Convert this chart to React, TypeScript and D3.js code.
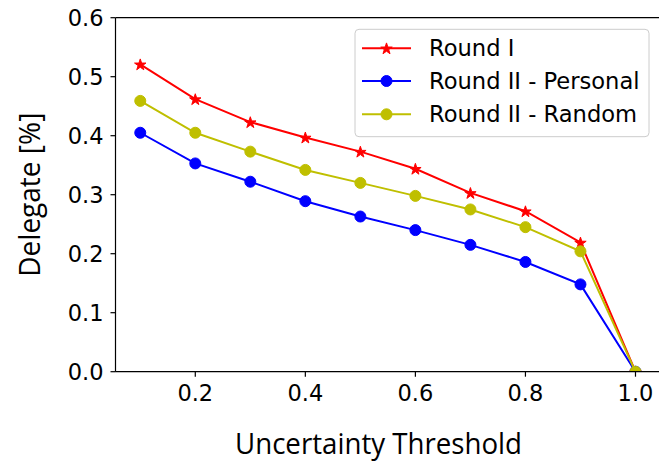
import React from "react";
import * as d3 from "d3";

const thresholds = [0.1, 0.2, 0.3, 0.4, 0.5, 0.6, 0.7, 0.8, 0.9, 1.0];
const roundI = [0.521, 0.462, 0.423, 0.397, 0.373, 0.344, 0.303, 0.272, 0.219, 0.0];
const roundIIPersonal = [0.405, 0.353, 0.322, 0.289, 0.263, 0.240, 0.215, 0.186, 0.148, 0.0];
const roundIIRandom = [0.459, 0.405, 0.373, 0.342, 0.320, 0.298, 0.275, 0.245, 0.204, 0.0];
const xTicks = [0.2, 0.4, 0.6, 0.8, 1.0];
const yTicks = [0.0, 0.1, 0.2, 0.3, 0.4, 0.5, 0.6];
const seriesNames = ["Round I", "Round II - Personal", "Round II - Random"];

const W = 659, H = 463;
const left = 115.5, top = 17.7, bottom = 371.7, right = 660.25;

function starPath(cx: number, cy: number, r: number) {
  const ri = r * 0.381966;
  const pts: string[] = [];
  for (let i = 0; i < 10; i++) {
    const a = -Math.PI / 2 + (i * Math.PI) / 5;
    const rr = i % 2 === 0 ? r : ri;
    pts.push(`${cx + rr * Math.cos(a)},${cy + rr * Math.sin(a)}`);
  }
  return "M" + pts.join("L") + "Z";
}

export default function App() {
  const x = d3.scaleLinear().domain([0.055, 1.045]).range([left, right]);
  const y = d3.scaleLinear().domain([0, 0.6]).range([bottom, top]);
  const line = d3.line<number>().x((_, i) => x(thresholds[i])).y((d) => y(d));
  const series = [
    { name: seriesNames[0], data: roundI, color: "#ff0000", marker: "star" },
    { name: seriesNames[1], data: roundIIPersonal, color: "#0000ff", marker: "circle" },
    { name: seriesNames[2], data: roundIIRandom, color: "#bfbf00", marker: "circle" },
  ];
  const tickFont = "DejaVu Sans";
  const marker = (m: string, cx: number, cy: number, color: string, key?: any) =>
    m === "star" ? (
      <path key={key} d={starPath(cx, cy + 0.6, 6)} fill={color} stroke={color} strokeWidth={1} />
    ) : (
      <circle key={key} cx={cx} cy={cy} r={5.5} fill={color} stroke={color} strokeWidth={1} />
    );
  const legX = 355, legY = 29.3;
  const rows = [48.3, 81, 114.3];
  return (
    <svg width={W} height={H} style={{ position: "absolute", left: 0, top: 0, background: "#fff" }}>
      <defs>
        <clipPath id="axclip">
          <rect x={left} y={top} width={right - left} height={bottom - top} />
        </clipPath>
      </defs>
      <rect x={0} y={0} width={W} height={H} fill="#fff" />
      <g clipPath="url(#axclip)">
        {series.map((s) => (
          <g key={s.name}>
            <path d={line(s.data) || ""} fill="none" stroke={s.color} strokeWidth={2} />
            {s.data.map((v, i) => marker(s.marker, x(thresholds[i]), y(v), s.color, i))}
          </g>
        ))}
      </g>
      {/* spines */}
      <g stroke="#000" strokeWidth={1.2} fill="none">
        <line x1={left} y1={top} x2={left} y2={bottom} />
        <line x1={left} y1={bottom} x2={right} y2={bottom} />
        <line x1={left} y1={top} x2={right} y2={top} />
      </g>
      {yTicks.map((t) => (
        <g key={"y" + t}>
          <line x1={left - 5} x2={left} y1={y(t)} y2={y(t)} stroke="#000" strokeWidth={1.2} />
          <text x={left - 12} y={y(t)} dy="0.36em" textAnchor="end" fontFamily={tickFont} fontSize={22.5} fill="#000">
            {t.toFixed(1)}
          </text>
        </g>
      ))}
      {xTicks.map((t) => (
        <g key={"x" + t}>
          <line x1={x(t)} x2={x(t)} y1={bottom} y2={bottom + 5} stroke="#000" strokeWidth={1.2} />
          <text x={x(t)} y={401} textAnchor="middle" fontFamily={tickFont} fontSize={22.5} fill="#000">
            {t.toFixed(1)}
          </text>
        </g>
      ))}
      <text x={378.5} y={454} textAnchor="middle" fontFamily="Open Sans" fontSize={30} textLength={287} lengthAdjust="spacingAndGlyphs" fill="#000">
        Uncertainty Threshold
      </text>
      <text
        transform={`translate(40, ${(top + bottom) / 2}) rotate(-90)`}
        textAnchor="middle"
        fontFamily="Open Sans"
        fontSize={30}
        textLength={164}
        lengthAdjust="spacingAndGlyphs"
        fill="#000"
      >
        Delegate [%]
      </text>
      {/* legend */}
      <rect x={legX} y={legY} width={294} height={107.4} rx={4} ry={4} fill="#fff" fillOpacity={0.8} stroke="#cccccc" strokeWidth={1} />
      {series.map((s, i) => (
        <g key={"leg" + i}>
          <line x1={362} x2={411} y1={rows[i]} y2={rows[i]} stroke={s.color} strokeWidth={2} />
          {marker(s.marker, 386.5, rows[i], s.color)}
          <text x={429} y={rows[i]} dy="0.36em" fontFamily={tickFont} fontSize={22.6} fill="#000">
            {s.name}
          </text>
        </g>
      ))}
    </svg>
  );
}
